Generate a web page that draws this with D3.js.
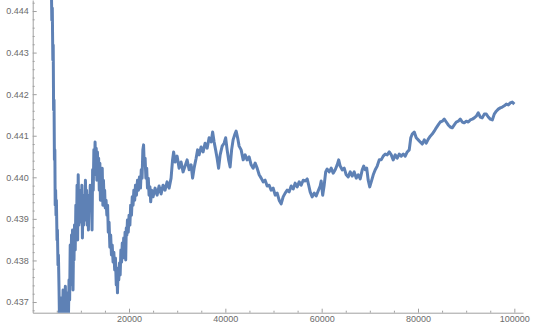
<!DOCTYPE html>
<html>
<head>
<meta charset="utf-8">
<script src="https://cdn.jsdelivr.net/npm/d3@7"></script>
<style>
    body { margin: 0; background: #fff; }
    #chart { width: 540px; height: 330px; }
    .tick text { font-family: "Liberation Sans", Arial, sans-serif; font-size: 9px; fill: #6b6b6b; }
    .domain, .tick line { stroke: #a0a0a0; }
</style>
</head>
<body>
<div id="chart"></div>
<script>
// Sample index (x) and running ratio (y)
const steps = [
    3800, 3970, 4070, 4180, 4260, 4340, 4430, 4510, 4600, 4670,
    4760, 4840, 4920, 5050, 5130, 5250, 5340, 5470, 5560, 5780,
    5880, 5980, 6130, 6300, 6420, 6540, 6670, 6780, 6920, 7050,
    7170, 7290, 7420, 7540, 7670, 7790, 7920, 8060, 8160, 8270,
    8370, 8480, 8580, 8680, 8830, 8960, 9080, 9210, 9330, 9450,
    9580, 9700, 9830, 9950, 10080, 10210, 10320, 10450, 10570, 10700,
    10830, 10950, 11080, 11190, 11320, 11450, 11570, 11700, 11820, 11950,
    12080, 12190, 12320, 12440, 12570, 12700, 12820, 12950, 13070, 13190,
    13320, 13440, 13570, 13690, 13820, 13950, 14060, 14190, 14320, 14440,
    14570, 14690, 14820, 14940, 15060, 15230, 15400, 15550, 15690, 15860,
    16020, 16190, 16350, 16510, 16690, 16850, 17020, 17180, 17350, 17470,
    17600, 17730, 17870, 18020, 18160, 18310, 18450, 18600, 18740, 18890,
    19030, 19180, 19310, 19430, 19550, 19670, 19840, 20010, 20180, 20340,
    20510, 20670, 20840, 21000, 21180, 21340, 21540, 21760, 21960, 22170,
    22380, 22540, 22710, 22870, 23020, 23160, 23340, 23500, 23670, 23830,
    24000, 24160, 24340, 24500,
    24680, 24990, 25410, 25830, 26240, 26660, 27070, 27480, 27900, 28320,
    28730, 29040, 29260, 29570, 29980, 30400, 30810, 31220, 31640, 32060,
    32480, 32890, 33200, 33510, 33930, 34240, 34550, 34970, 35380, 35800,
    36220, 36630, 37050, 37360, 37670, 37980, 38290, 38600, 38920, 39340,
    39740, 40060, 40370, 40680, 40990, 41300, 41610, 41930, 42240, 42550,
    42860, 43280, 43700, 44110, 44520, 44940, 45350, 45770, 46190, 46600,
    47020, 47440, 47850, 48260, 48680, 49100, 49510, 49930, 50350, 50760,
    51170, 51590, 52000, 52420, 52840, 53250, 53670, 54090, 54490, 54910,
    55330, 55740, 56160, 56580, 56990, 57300, 57610, 58030, 58450, 58860,
    59270, 59690, 59900, 60210, 60520, 60830, 61140, 61560, 61970, 62390,
    62810, 63220, 63530, 63840, 64260, 64680, 65090, 65510, 65930, 66340,
    66750, 67170, 67590, 68000, 68420, 68730, 69040, 69350, 69660, 69980,
    70290, 70710, 71120, 71530, 71950, 72360, 72780, 73200, 73610, 74030,
    74450, 74850, 75270, 75690, 76100, 76520, 76940, 77350, 77760, 78180,
    78500, 78810, 79220, 79630, 80050, 80460, 80880, 81300, 81710, 82130,
    82550, 82950, 83370, 83790, 84200, 84620, 85040, 85450, 85870, 86280,
    86700, 87110, 87530, 87950, 88360, 88780, 89190, 89600, 90020, 90440,
    90850, 91270, 91690, 92100, 92510, 92930, 93340, 93760, 94180, 94590,
    95010, 95430, 95830, 96250, 96670, 97080, 97500, 97920, 98330, 98750,
    99160, 99570, 100000
];

const ratio = [
    0.44523, 0.44378, 0.44407, 0.44282, 0.44318, 0.44162, 0.44186, 0.44042, 0.44066, 0.43933,
    0.43969, 0.43909, 0.43945, 0.43849, 0.43873, 0.43789, 0.43813, 0.43729, 0.43657, 0.43693,
    0.43645, 0.43710, 0.43633, 0.43729, 0.43645, 0.43705, 0.43657, 0.43738, 0.43645, 0.43705,
    0.43657, 0.43722, 0.43661, 0.43753, 0.43705, 0.43837, 0.43741, 0.43861, 0.43796, 0.43873,
    0.43729, 0.43837, 0.43801, 0.43885, 0.43825, 0.43933, 0.43849, 0.43981, 0.43849, 0.44006,
    0.43885, 0.43957, 0.43892, 0.43969, 0.43909, 0.43981, 0.43854, 0.43945, 0.43885, 0.43957,
    0.43897, 0.43993, 0.43914, 0.43969, 0.43885, 0.43945, 0.43873, 0.43957, 0.43921, 0.43981,
    0.43933, 0.43974, 0.43873, 0.44018, 0.43969, 0.44066, 0.44006, 0.44085, 0.44030, 0.44070,
    0.43993, 0.44061, 0.44013, 0.44046, 0.43969, 0.44034, 0.43945, 0.44018, 0.43981, 0.44022,
    0.43933, 0.43993, 0.43945, 0.43969, 0.43926, 0.43945, 0.43909, 0.43933, 0.43868, 0.43892,
    0.43832, 0.43861, 0.43813, 0.43837, 0.43796, 0.43820, 0.43777, 0.43806, 0.43741, 0.43782,
    0.43722, 0.43777, 0.43753, 0.43794, 0.43765, 0.43825, 0.43796, 0.43842, 0.43806, 0.43854,
    0.43820, 0.43868, 0.43801, 0.43878, 0.43861, 0.43897, 0.43868, 0.43909, 0.43885, 0.43933,
    0.43909, 0.43953, 0.43933, 0.43969, 0.43945, 0.43981, 0.43957, 0.43993, 0.43969, 0.44001,
    0.43974, 0.44018, 0.43998, 0.44066, 0.44078, 0.44030, 0.44046, 0.43998, 0.44022, 0.43974,
    0.43998, 0.43957, 0.43977, 0.43941,
    0.43969, 0.43953, 0.43974, 0.43957, 0.43979, 0.43960, 0.43981, 0.43969, 0.43989, 0.43974,
    0.43998, 0.44042, 0.44061, 0.44037, 0.44051, 0.44022, 0.44037, 0.44013, 0.44027, 0.44042,
    0.44018, 0.44030, 0.43998, 0.44022, 0.44046, 0.44066, 0.44054, 0.44073, 0.44061, 0.44082,
    0.44070, 0.44095, 0.44085, 0.44109, 0.44085, 0.44066, 0.44046, 0.44022, 0.44054, 0.44075,
    0.44082, 0.44095, 0.44066, 0.44042, 0.44025, 0.44066, 0.44090, 0.44102, 0.44111, 0.44095,
    0.44075, 0.44066, 0.44042, 0.44054, 0.44042, 0.44049, 0.44030, 0.44022, 0.44034, 0.44022,
    0.44006, 0.43998, 0.43989, 0.43993, 0.43979, 0.43981, 0.43969, 0.43974, 0.43957, 0.43962,
    0.43945, 0.43936, 0.43953, 0.43962, 0.43969, 0.43965, 0.43979, 0.43972, 0.43986, 0.43977,
    0.43989, 0.43981, 0.43993, 0.43991, 0.43996, 0.43981, 0.43965, 0.43953, 0.43962, 0.43955,
    0.43967, 0.43979, 0.43991, 0.43957, 0.43981, 0.44013, 0.44020, 0.44013, 0.44022, 0.44010,
    0.44018, 0.44030, 0.44042, 0.44027, 0.44018, 0.44022, 0.44006, 0.44001, 0.44013, 0.44003,
    0.44013, 0.43998, 0.44006, 0.43996, 0.44018, 0.44027, 0.44018, 0.44022, 0.43993, 0.43977,
    0.43989, 0.44006, 0.44018, 0.44027, 0.44042, 0.44042, 0.44051, 0.44056, 0.44054, 0.44061,
    0.44054, 0.44042, 0.44054, 0.44046, 0.44056, 0.44051, 0.44056, 0.44051, 0.44061, 0.44066,
    0.44095, 0.44104, 0.44109, 0.44095, 0.44090, 0.44085, 0.44080, 0.44090, 0.44082, 0.44092,
    0.44099, 0.44104, 0.44111, 0.44119, 0.44126, 0.44133, 0.44135, 0.44140, 0.44133, 0.44126,
    0.44121, 0.44119, 0.44126, 0.44133, 0.44135, 0.44140, 0.44133, 0.44131, 0.44135, 0.44133,
    0.44138, 0.44140, 0.44143, 0.44147, 0.44155, 0.44145, 0.44143, 0.44152, 0.44152, 0.44145,
    0.44140, 0.44138, 0.44152, 0.44159, 0.44164, 0.44167, 0.44169, 0.44172, 0.44176, 0.44174,
    0.44179, 0.44181, 0.44176
];

// Tick values and labels
const xTicks = [20000, 40000, 60000, 80000, 100000];
const xTickLabels = ["20000", "40000", "60000", "80000", "100000"];
const yTicks = [0.437, 0.438, 0.439, 0.440, 0.441, 0.442, 0.443, 0.444];
const yTickLabels = ["0.437", "0.438", "0.439", "0.440", "0.441", "0.442", "0.443", "0.444"];

const width = 540, height = 330;
const margin = { top: 0, right: 17, bottom: 17.3, left: 32.7 };

const svg = d3.select("#chart")
    .append("svg")
    .attr("width", width)
    .attr("height", height);

// Scales (plot range slightly wider than the data, like the original)
const x = d3.scaleLinear()
    .domain([0, 101800])
    .range([margin.left, width - margin.right]);

const y = d3.scaleLinear()
    .domain([0.436743, 0.444265])
    .range([height - margin.bottom, margin.top]);

// Clip the series to the plot area
svg.append("clipPath")
    .attr("id", "plot-clip")
    .append("rect")
    .attr("x", margin.left)
    .attr("y", margin.top)
    .attr("width", width - margin.left - margin.right + 10)
    .attr("height", height - margin.top - margin.bottom);

// Minor ticks
const xMinor = d3.range(5000, 101000, 5000).filter((d) => d % 20000 !== 0);
const yMinor = d3.range(0.4368, 0.4443, 0.0002).filter((d) => Math.abs(Math.round(d * 1000) - d * 1000) > 1e-6);

svg.append("g")
    .attr("transform", `translate(0,${height - margin.bottom})`)
    .call(d3.axisBottom(x).tickValues(xMinor).tickSize(-2).tickFormat(""))
    .call((g) => g.select(".domain").remove());

svg.append("g")
    .attr("transform", `translate(${margin.left},0)`)
    .call(d3.axisLeft(y).tickValues(yMinor).tickSize(-2).tickFormat(""))
    .call((g) => g.select(".domain").remove());

// Major axes
svg.append("g")
    .attr("transform", `translate(0,${height - margin.bottom})`)
    .call(
        d3.axisBottom(x)
            .tickValues(xTicks)
            .tickSize(-4)
            .tickSizeOuter(0)
            .tickPadding(3)
            .tickFormat((d, i) => xTickLabels[i])
    );

svg.append("g")
    .attr("transform", `translate(${margin.left},0)`)
    .call(
        d3.axisLeft(y)
            .tickValues(yTicks)
            .tickSize(-4)
            .tickSizeOuter(0)
            .tickPadding(4)
            .tickFormat((d, i) => yTickLabels[i])
    );

// The series
const line = d3.line()
    .x((d, i) => x(steps[i]))
    .y((d) => y(d));

svg.append("path")
    .datum(ratio)
    .attr("clip-path", "url(#plot-clip)")
    .attr("fill", "none")
    .attr("stroke", "#5E81B5")
    .attr("stroke-width", 3)
    .attr("stroke-linejoin", "round")
    .attr("d", line);
</script>
</body>
</html>
